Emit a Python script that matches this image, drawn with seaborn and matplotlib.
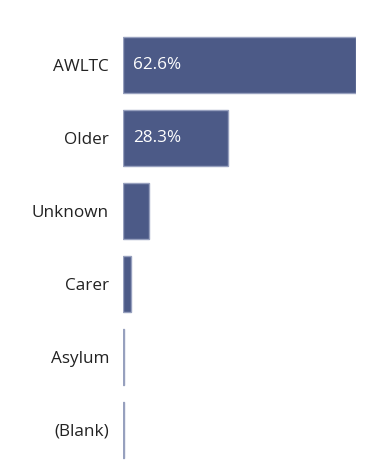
import matplotlib
matplotlib.use("Agg")
import matplotlib.pyplot as plt
import seaborn as sns
import pandas as pd

categories = ["AWLTC", "Older", "Unknown", "Carer", "Asylum", "(Blank)"]
values = [62.6, 28.3, 7.0, 2.1, 0.15, 0.15]
value_labels = ["62.6%", "28.3%", "", "", "", ""]

sns.set_theme(style="white")
plt.rcParams["font.family"] = ["Open Sans", "DejaVu Sans"]

df = pd.DataFrame({"category": categories, "value": values})

fig = plt.figure(figsize=(3.79, 4.76), dpi=100)
ax = fig.add_axes([123 / 379, 0.02, (356 - 123) / 379, 0.92])
sns.barplot(data=df, y="category", x="value", color="#4C5A87", saturation=1,
            width=0.77, ax=ax, edgecolor="#97A0BE", linewidth=1.0)

ax.set_xlim(0, 62.6)
for i, (v, lab) in enumerate(zip(values, value_labels)):
    if lab:
        ax.text(10 / 3.72, i, lab, color="white", va="center", ha="left", fontsize=12.3)

ax.set_xlabel("")
ax.set_ylabel("")
ax.set_xticks([])
ax.tick_params(axis="y", length=0, pad=10, labelsize=12.3, labelcolor="#222222")
for s in ax.spines.values():
    s.set_visible(False)

fig.savefig("out.png", dpi=100)
